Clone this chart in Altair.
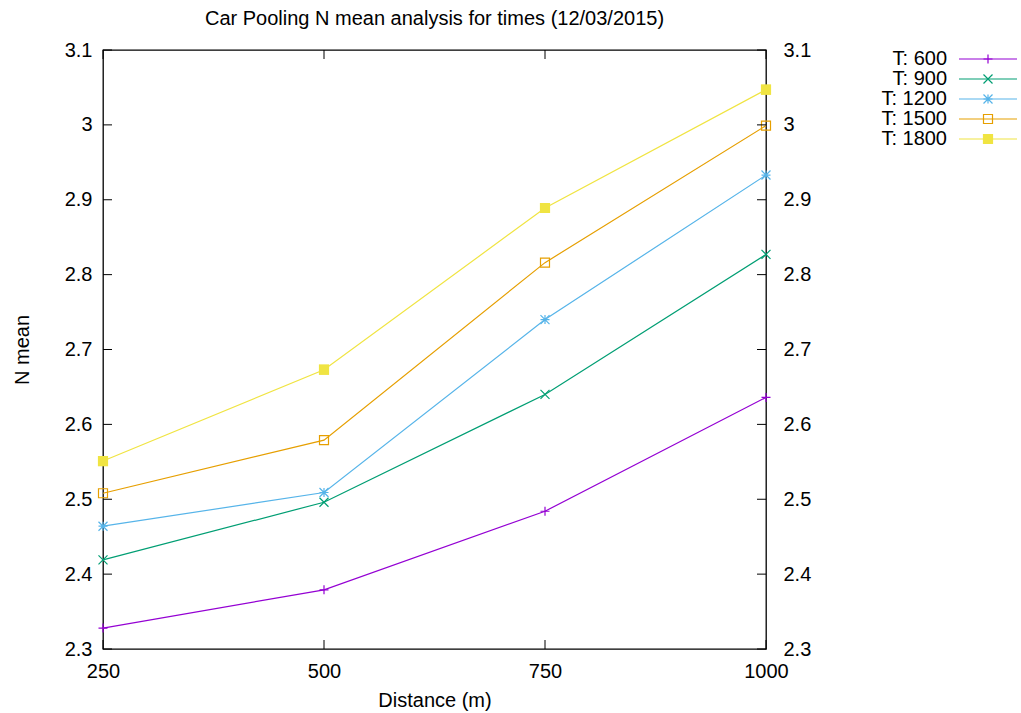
import altair as alt
import pandas as pd

# Distance (m) sampled for every series
distances = [250, 500, 750, 1000]

# Legend labels, one per time window
series_names = ["T: 600", "T: 900", "T: 1200", "T: 1500", "T: 1800"]

# N mean for each time window
t600 = [2.328, 2.379, 2.484, 2.636]
t900 = [2.419, 2.496, 2.640, 2.827]
t1200 = [2.464, 2.509, 2.740, 2.933]
t1500 = [2.508, 2.579, 2.816, 2.999]
t1800 = [2.551, 2.673, 2.889, 3.047]

# Axis tick values
x_ticks = [250, 500, 750, 1000]
y_ticks = [2.3, 2.4, 2.5, 2.6, 2.7, 2.8, 2.9, 3.0, 3.1]

colors = ["#9400d3", "#009e73", "#56b4e9", "#e69f00", "#f0e442"]
plus_path = "M-1,0L1,0M0,-1L0,1"
cross_path = "M-1,-1L1,1M-1,1L1,-1"
star_path = "M-1,0L1,0M0,-1L0,1M-1,-1L1,1M-1,1L1,-1"
square_path = "M-1,-1L1,-1L1,1L-1,1Z"
shapes = [plus_path, cross_path, star_path, square_path, square_path]

FONT = "Liberation Sans"
FS = 20
W, H = 663, 599

rows = []
for name, vals in zip(series_names, [t600, t900, t1200, t1500, t1800]):
    for d, v in zip(distances, vals):
        rows.append({"series": name, "distance": d, "nmean": v})
df = pd.DataFrame(rows)
legend_df = pd.DataFrame({"series": series_names})
xt_df = pd.DataFrame({"distance": x_ticks})
yt_df = pd.DataFrame({"nmean": y_ticks})

x_scale = alt.Scale(domain=[250, 1000], nice=False, zero=False)
y_scale = alt.Scale(domain=[2.3, 3.1], nice=False, zero=False)
color = alt.Color("series:N", scale=alt.Scale(domain=series_names, range=colors), legend=None)

x_axis = alt.Axis(values=x_ticks, ticks=False, domain=False, grid=False, format="d",
                  labelFlush=False, labelFontSize=FS, labelPadding=12, labelFont=FONT,
                  labelColor="black", title="Distance (m)", titleFont=FONT, titleFontSize=FS,
                  titleFontWeight="normal", titleColor="black", titlePadding=9)

left_axis = alt.Axis(values=y_ticks, ticks=False, domain=False, grid=False, orient="left",
                     format=".1~f", labelFlush=False, labelFontSize=FS, labelPadding=11,
                     labelFont=FONT, labelColor="black", title="N mean", titleFont=FONT,
                     titleFontSize=FS, titleFontWeight="normal", titleColor="black",
                     titlePadding=32)

right_axis = alt.Axis(values=y_ticks, ticks=False, domain=False, grid=False, orient="right",
                      format=".1~f", labelFlush=False, labelFontSize=FS, labelPadding=17,
                      labelFont=FONT, labelColor="black", title=None)

X = alt.X("distance:Q", scale=x_scale, axis=x_axis)

lines = alt.Chart(df).mark_line(strokeWidth=1.2).encode(
    x=X,
    y=alt.Y("nmean:Q", scale=y_scale, axis=left_axis),
    color=color,
    detail="series:N",
)

points = alt.Chart(df).mark_point(filled=False, size=81, strokeWidth=1.2, opacity=1).encode(
    x=X,
    y=alt.Y("nmean:Q", scale=y_scale, axis=right_axis),
    color=color,
    shape=alt.Shape("series:N", scale=alt.Scale(domain=series_names, range=shapes), legend=None),
)

filled = alt.Chart(df).transform_filter(alt.datum.series == "T: 1800").mark_point(
    filled=True, size=100, shape=square_path, opacity=1
).encode(
    x=X,
    y=alt.Y("nmean:Q", scale=y_scale, axis=None),
    color=color,
)

# inward border ticks on all four sides
xt_bottom = alt.Chart(xt_df).mark_rule(color="black", strokeWidth=1).encode(
    x=X, y=alt.value(H - 9), y2=alt.value(H))
xt_top = alt.Chart(xt_df).mark_rule(color="black", strokeWidth=1).encode(
    x=X, y=alt.value(0), y2=alt.value(9))
yt_left = alt.Chart(yt_df).mark_rule(color="black", strokeWidth=1).encode(
    y=alt.Y("nmean:Q", scale=y_scale, axis=None), x=alt.value(0), x2=alt.value(9))
yt_right = alt.Chart(yt_df).mark_rule(color="black", strokeWidth=1).encode(
    y=alt.Y("nmean:Q", scale=y_scale, axis=None), x=alt.value(W - 9), x2=alt.value(W))

# key placed to the right of the plot
key_y = alt.Y("series:N", scale=alt.Scale(type="point", domain=series_names, range=[9, 89], padding=0), axis=None)
key_text = alt.Chart(legend_df).mark_text(
    align="right", baseline="middle", fontSize=FS, font=FONT, color="black"
).encode(x=alt.value(844), y=key_y, text="series:N")
key_line = alt.Chart(legend_df).mark_rule(strokeWidth=1.2).encode(
    x=alt.value(856), x2=alt.value(914), y=key_y, color=color)
key_pts = alt.Chart(legend_df).mark_point(filled=False, size=81, strokeWidth=1.2, opacity=1).encode(
    x=alt.value(885), y=key_y, color=color,
    shape=alt.Shape("series:N", scale=alt.Scale(domain=series_names, range=shapes), legend=None))
key_fill = alt.Chart(legend_df).transform_filter(alt.datum.series == "T: 1800").mark_point(
    filled=True, size=100, shape=square_path, opacity=1
).encode(x=alt.value(885), y=key_y, color=color)

chart = alt.layer(
    lines, points, filled, xt_bottom, xt_top, yt_left, yt_right,
    key_text, key_line, key_pts, key_fill,
).resolve_scale(y="independent").resolve_axis(y="independent").properties(
    width=W, height=H,
    title=alt.TitleParams("Car Pooling N mean analysis for times (12/03/2015)",
                          font=FONT, fontSize=FS, fontWeight="normal", color="black",
                          anchor="middle", offset=11),
    autosize=alt.AutoSizeParams(type="none"),
    padding={"left": 103, "top": 50, "right": 255, "bottom": 64},
    background="white",
).configure_view(stroke="black", strokeWidth=1.3)

chart.save("out.html", embed_options={"renderer": "svg", "actions": False})
